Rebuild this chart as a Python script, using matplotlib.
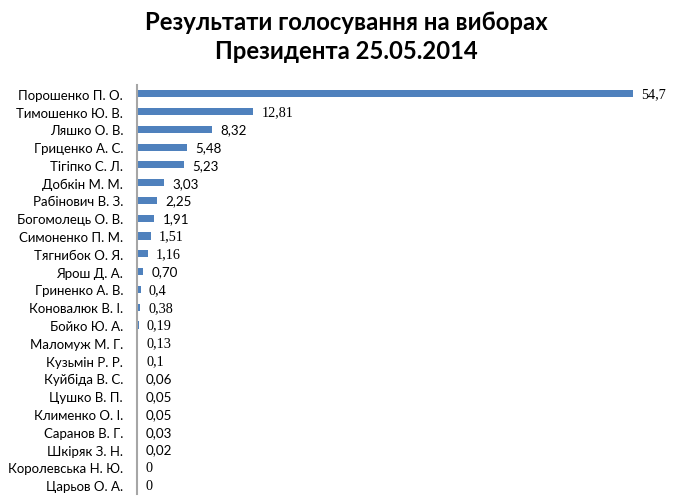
import matplotlib.pyplot as plt

# candidates and results (%)
candidates = ['Порошенко П. О.', 'Тимошенко Ю. В.', 'Ляшко О. В.', 'Гриценко А. С.',
              'Тігіпко С. Л.', 'Добкін М. М.', 'Рабінович В. З.', 'Богомолець О. В.',
              'Симоненко П. М.', 'Тягнибок О. Я.', 'Ярош Д. А.', 'Гриненко А. В.',
              'Коновалюк В. І.', 'Бойко Ю. А.', 'Маломуж М. Г.', 'Кузьмін Р. Р.',
              'Куйбіда В. С.', 'Цушко В. П.', 'Клименко О. І.', 'Саранов В. Г.',
              'Шкіряк З. Н.', 'Королевська Н. Ю.', 'Царьов О. А.']
values = [54.7, 12.81, 8.32, 5.48, 5.23, 3.03, 2.25, 1.91, 1.51, 1.16, 0.70, 0.4,
          0.38, 0.19, 0.13, 0.1, 0.06, 0.05, 0.05, 0.03, 0.02, 0, 0]
value_labels = ['54,7', '12,81', '8,32', '5,48', '5,23', '3,03', '2,25', '1,91',
                '1,51', '1,16', '0,70', '0,4', '0,38', '0,19', '0,13', '0,1',
                '0,06', '0,05', '0,05', '0,03', '0,02', '0', '0']
# labels that were typed in a serif face in the original
serif_labels = {0, 1, 8, 9, 11, 12, 13, 14, 15, 21, 22}

fig = plt.figure(figsize=(6.87, 5.02), dpi=100)
ax = fig.add_axes([0.1994, 0.014, 0.792, 0.815])

y = list(range(len(candidates)))
ax.barh(y, values, height=0.4, color='#4F81BD')
ax.set_ylim(len(candidates) - 0.5, -0.5)
ax.set_xlim(0, 60)

for i, (v, lab) in enumerate(zip(values, value_labels)):
    fam = 'Liberation Serif' if i in serif_labels else 'Lato'
    fs = 10.2 if i in serif_labels else 9.6
    ax.text(v + 0.9, i, lab, va='center', ha='left', fontsize=fs, family=fam, color='#000000')

ax.set_yticks(y)
ax.set_yticklabels(candidates, family='Lato', fontsize=9.5)
ax.tick_params(axis='y', length=0, pad=10)
ax.set_xticks([])
for s in ['top', 'right', 'bottom']:
    ax.spines[s].set_visible(False)
ax.spines['left'].set_color('#A6A6A6')
ax.spines['left'].set_linewidth(1.5)

fig.text(0.504, 0.955, 'Результати голосування на виборах', ha='center', va='center',
         fontsize=17.2, fontweight='bold', family='Lato')
fig.text(0.504, 0.897, 'Президента 25.05.2014', ha='center', va='center',
         fontsize=17.2, fontweight='bold', family='Lato')

plt.savefig('out.png', dpi=100)
